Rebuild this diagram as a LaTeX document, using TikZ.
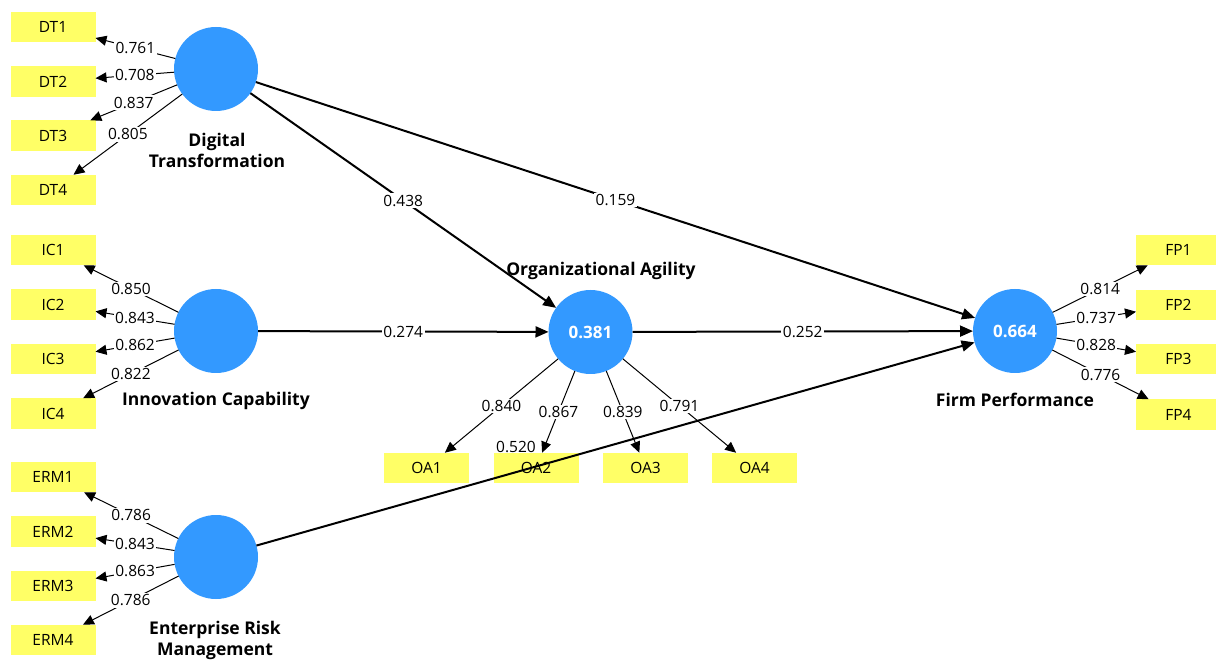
\documentclass[tikz,border=0pt]{standalone}
\usepackage{fontspec}
\setmainfont{Open Sans}
\usetikzlibrary{arrows.meta}
\definecolor{lvblue}{RGB}{51,153,255}
\definecolor{mvyellow}{RGB}{255,255,102}
\tikzset{
  latent/.style={circle, fill=lvblue, minimum size=84pt, inner sep=0pt, outer sep=0pt,
    text=white, font=\fontsize{17}{20}\selectfont\bfseries},
  indicator/.style={rectangle, fill=mvyellow, minimum width=85pt, minimum height=30.5pt,
    inner sep=0pt, outer sep=0pt, font=\fontsize{15.5}{18}\selectfont},
  lvname/.style={font=\fontsize{17.5}{21}\selectfont\bfseries, align=center, inner sep=0pt},
  loading/.style={-{Triangle[length=11pt,width=10pt]}, line width=1pt},
  pathcoef/.style={-{Triangle[length=13pt,width=11pt]}, line width=2pt},
  coef/.style={fill=white, inner sep=1.5pt, font=\fontsize{15.5}{18}\selectfont, pos=0.5}
}
\begin{document}
\begin{tikzpicture}[x=1pt,y=-1pt]
\useasboundingbox (0,0) rectangle (1216,660);
\clip (0,0) rectangle (1216,660);

% latent variables
\node[latent] (dt)  at (216,69) {};
\node[latent] (ic)  at (216,331) {};
\node[latent] (erm) at (216,557) {};
\node[latent] (oa)  at (590.5,332) {0.381};
\node[latent] (fp)  at (1015,331) {0.664};

% construct names
\node[lvname] (ndt)  at (217,150) {Digital\\Transformation};
\node[lvname] (nic)  at (216,401) {Innovation Capability};
\node[lvname] (nerm) at (215,640) {Enterprise Risk\\Management};
\node[lvname] (noa)  at (601,271) {Organizational Agility};
\node[lvname] (nfp)  at (1015,400) {Firm Performance};

% indicators
\node[indicator] (dt1) at (53,27) {DT1};
\node[indicator] (dt2) at (53,81.5) {DT2};
\node[indicator] (dt3) at (53,135.5) {DT3};
\node[indicator] (dt4) at (53,190) {DT4};
\node[indicator] (ic1) at (53,250) {IC1};
\node[indicator] (ic2) at (53,304.5) {IC2};
\node[indicator] (ic3) at (53,359) {IC3};
\node[indicator] (ic4) at (53,413.5) {IC4};
\node[indicator] (erm1) at (53,477) {ERM1};
\node[indicator] (erm2) at (53,531.5) {ERM2};
\node[indicator] (erm3) at (53,586) {ERM3};
\node[indicator] (erm4) at (53,640) {ERM4};
\node[indicator] (oa1) at (426.5,468) {OA1};
\node[indicator] (oa2) at (536,468) {OA2};
\node[indicator] (oa3) at (645.5,468) {OA3};
\node[indicator] (oa4) at (754.5,468) {OA4};
\node[indicator] (fp1) at (1178.5,250) {FP1};
\node[indicator] (fp2) at (1178.5,305) {FP2};
\node[indicator] (fp3) at (1178.5,359) {FP3};
\node[indicator] (fp4) at (1178.5,414.5) {FP4};

% outer loadings
\draw[loading] (dt) -- node[coef] {0.761} (dt1);
\draw[loading] (dt) -- node[coef] {0.708} (dt2);
\draw[loading] (dt) -- node[coef] {0.837} (dt3);
\draw[loading] (dt) -- node[coef] {0.805} (dt4);
\draw[loading] (ic) -- node[coef] {0.850} (ic1);
\draw[loading] (ic) -- node[coef] {0.843} (ic2);
\draw[loading] (ic) -- node[coef] {0.862} (ic3);
\draw[loading] (ic) -- node[coef] {0.822} (ic4);
\draw[loading] (erm) -- node[coef] {0.786} (erm1);
\draw[loading] (erm) -- node[coef] {0.843} (erm2);
\draw[loading] (erm) -- node[coef] {0.863} (erm3);
\draw[loading] (erm) -- node[coef] {0.786} (erm4);
\draw[loading] (oa) -- node[coef] {0.840} (oa1);
\draw[loading] (oa) -- node[coef] {0.867} (oa2);
\draw[loading] (oa) -- node[coef] {0.839} (oa3);
\draw[loading] (oa) -- node[coef] {0.791} (oa4);
\draw[loading] (fp) -- node[coef] {0.814} (fp1);
\draw[loading] (fp) -- node[coef] {0.737} (fp2);
\draw[loading] (fp) -- node[coef] {0.828} (fp3);
\draw[loading] (fp) -- node[coef] {0.776} (fp4);

% structural paths
\draw[pathcoef] (dt) -- node[coef] {0.438} (oa);
\draw[pathcoef] (dt) -- node[coef] {0.159} (fp);
\draw[pathcoef] (ic) -- node[coef] {0.274} (oa);
\draw[pathcoef] (oa) -- node[coef] {0.252} (fp);
\draw[pathcoef] (erm) -- (fp);
\node[font=\fontsize{15.5}{18}\selectfont, inner sep=0pt] (lerm) at (516,447) {0.520};
\end{tikzpicture}
\end{document}
